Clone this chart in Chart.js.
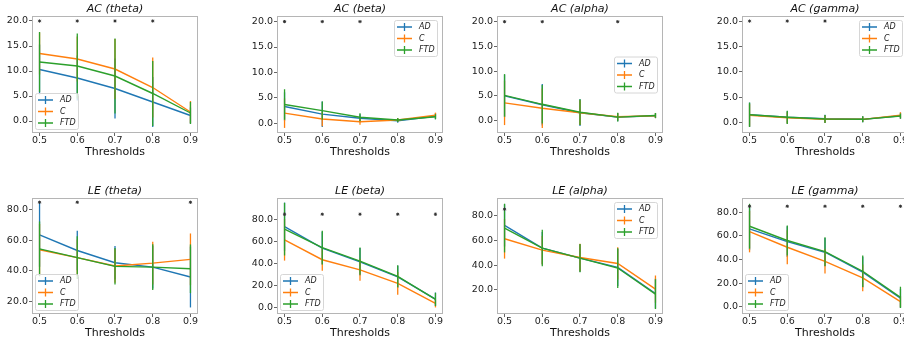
<!DOCTYPE html>
<html><head><meta charset="utf-8">
<script src="https://cdn.jsdelivr.net/npm/chart.js@4"></script>
<style>
html,body{margin:0;padding:0;background:#fff;}
body{width:904px;height:344px;overflow:hidden;position:relative;}
.cell{position:absolute;}
</style></head><body>
<script>
// ---------------- DATA ----------------
const thresholds = [0.5, 0.6, 0.7, 0.8, 0.9];
const groups = ['AD', 'C', 'FTD'];
const acTicks = [0, 5, 10, 15, 20];
const leTicks = [0, 20, 40, 60, 80];
const acSigLevel = 20;
const leSigLevel = 85;

// AC (theta)
const acThetaAD = [10.3, 8.6, 6.5, 3.8, 1.1];
const acThetaADsd = [5.0, 4.5, 6.0, 5.0, 1.6];
const acThetaC = [13.5, 12.4, 10.4, 6.7, 1.8];
const acThetaCsd = [4.2, 4.5, 6.0, 6.0, 2.2];
const acThetaFTD = [11.8, 11.0, 9.0, 5.5, 1.6];
const acThetaFTDsd = [6.0, 6.5, 7.5, 6.5, 2.2];
const acThetaSig = [1, 1, 1, 1, 0];

// AC (beta)
const acBetaAD = [3.3, 1.8, 1.0, 0.5, 1.4];
const acBetaADsd = [2.8, 2.5, 0.8, 0.4, 0.6];
const acBetaC = [2.0, 0.85, 0.3, 0.65, 1.6];
const acBetaCsd = [2.9, 1.4, 0.6, 0.4, 0.5];
const acBetaFTD = [3.7, 2.5, 1.2, 0.65, 1.3];
const acBetaFTDsd = [3.0, 1.8, 0.8, 0.4, 0.5];
const acBetaSig = [1, 1, 1, 0, 0];

// AC (alpha)
const acAlphaAD = [5.0, 3.2, 1.6, 0.7, 1.0];
const acAlphaADsd = [4.3, 4.2, 2.7, 0.8, 0.5];
const acAlphaC = [3.6, 2.5, 1.6, 0.8, 1.0];
const acAlphaCsd = [4.5, 4.0, 2.5, 0.7, 0.5];
const acAlphaFTD = [5.1, 3.3, 1.7, 0.7, 1.05];
const acAlphaFTDsd = [4.3, 3.9, 2.6, 0.9, 0.5];
const acAlphaSig = [1, 1, 0, 1, 0];

// AC (gamma)
const acGammaAD = [1.5, 1.0, 0.7, 0.6, 1.3];
const acGammaADsd = [2.4, 1.2, 0.8, 0.6, 0.6];
const acGammaC = [1.4, 0.9, 0.6, 0.6, 1.4];
const acGammaCsd = [2.2, 1.1, 0.7, 0.5, 0.6];
const acGammaFTD = [1.5, 1.0, 0.65, 0.6, 1.25];
const acGammaFTDsd = [2.4, 1.3, 0.8, 0.6, 0.5];
const acGammaSig = [1, 1, 1, 0, 0];

// LE (theta)
const leThetaAD = [63.6, 53.3, 45.3, 42.4, 35.9];
const leThetaADsd = [21, 13, 11, 14, 20];
const leThetaC = [53.8, 48.6, 43.1, 45.0, 47.5];
const leThetaCsd = [17, 12, 11, 14, 17];
const leThetaFTD = [54.4, 48.6, 42.9, 42.4, 41.3];
const leThetaFTDsd = [18, 14, 12, 15, 16];
const leThetaSig = [1, 1, 0, 0, 1];

// LE (beta)
const leBetaAD = [73.6, 54.1, 41.6, 27.9, 7.6];
const leBetaADsd = [22, 15, 12.5, 10, 6];
const leBetaC = [61.7, 43.5, 34.3, 21.9, 3.6];
const leBetaCsd = [19, 10, 10, 10.3, 3.6];
const leBetaFTD = [71.4, 54.6, 42.2, 28.4, 7.3];
const leBetaFTDsd = [24, 15.4, 12.5, 10, 6];
const leBetaSig = [1, 1, 1, 1, 1];

// LE (alpha)
const leAlphaAD = [71.9, 53.7, 45.6, 38.1, 17.1];
const leAlphaADsd = [17, 13, 11, 15, 12];
const leAlphaC = [61.2, 52.0, 46.1, 41.3, 20.6];
const leAlphaCsd = [16, 11.5, 11, 13, 11];
const leAlphaFTD = [69.8, 53.7, 45.6, 37.6, 16.6];
const leAlphaFTDsd = [19.6, 14.7, 11.4, 16, 12];
const leAlphaSig = [1, 0, 0, 0, 0];

// LE (gamma)
const leGammaAD = [65.8, 55.1, 46.1, 29.2, 7.1];
const leGammaADsd = [18, 13, 12, 13, 8];
const leGammaC = [63.6, 50.3, 38.4, 24.3, 4.2];
const leGammaCsd = [17.6, 14.3, 10.4, 11.3, 4.7];
const leGammaFTD = [68.1, 56.0, 46.6, 30.0, 7.9];
const leGammaFTDsd = [19, 12.7, 12.2, 13.3, 9];
const leGammaSig = [1, 1, 1, 1, 1];

const panels = [
  {title: 'AC (theta)', means: [acThetaAD, acThetaC, acThetaFTD], sds: [acThetaADsd, acThetaCsd, acThetaFTDsd], sig: acThetaSig, level: acSigLevel, ticks: acTicks},
  {title: 'AC (beta)', means: [acBetaAD, acBetaC, acBetaFTD], sds: [acBetaADsd, acBetaCsd, acBetaFTDsd], sig: acBetaSig, level: acSigLevel, ticks: acTicks},
  {title: 'AC (alpha)', means: [acAlphaAD, acAlphaC, acAlphaFTD], sds: [acAlphaADsd, acAlphaCsd, acAlphaFTDsd], sig: acAlphaSig, level: acSigLevel, ticks: acTicks},
  {title: 'AC (gamma)', means: [acGammaAD, acGammaC, acGammaFTD], sds: [acGammaADsd, acGammaCsd, acGammaFTDsd], sig: acGammaSig, level: acSigLevel, ticks: acTicks},
  {title: 'LE (theta)', means: [leThetaAD, leThetaC, leThetaFTD], sds: [leThetaADsd, leThetaCsd, leThetaFTDsd], sig: leThetaSig, level: leSigLevel, ticks: leTicks},
  {title: 'LE (beta)', means: [leBetaAD, leBetaC, leBetaFTD], sds: [leBetaADsd, leBetaCsd, leBetaFTDsd], sig: leBetaSig, level: leSigLevel, ticks: leTicks},
  {title: 'LE (alpha)', means: [leAlphaAD, leAlphaC, leAlphaFTD], sds: [leAlphaADsd, leAlphaCsd, leAlphaFTDsd], sig: leAlphaSig, level: leSigLevel, ticks: leTicks},
  {title: 'LE (gamma)', means: [leGammaAD, leGammaC, leGammaFTD], sds: [leGammaADsd, leGammaCsd, leGammaFTDsd], sig: leGammaSig, level: leSigLevel, ticks: leTicks}
];

// ---------------- LAYOUT / STYLE ----------------
// plot area boxes [left, top, right, bottom], y axis range, legend location
const layout = [
  {box: [32, 16, 198, 133], yMin: -2.4, yMax: 21.0, legend: 'lower left'},
  {box: [277, 16, 443, 133], yMin: -1.9, yMax: 21.1, legend: 'upper right'},
  {box: [497, 16, 663, 133], yMin: -2.5, yMax: 21.15, legend: 'center right'},
  {box: [742, 16, 908, 133], yMin: -2.1, yMax: 21.0, legend: 'upper right'},
  {box: [32, 197.5, 198, 313.5], yMin: 11.6, yMax: 87.8, legend: 'lower left'},
  {box: [277, 197.5, 443, 313.5], yMin: -6.0, yMax: 99.8, legend: 'lower left'},
  {box: [497, 197.5, 663, 313.5], yMin: 0.6, yMax: 94.0, legend: 'upper right'},
  {box: [742, 197.5, 908, 313.5], yMin: -6.2, yMax: 92.0, legend: 'lower left'}
];
const colors = ['#1f77b4', '#ff7f0e', '#2ca02c'];
const FONT = "'DejaVu Sans', sans-serif";
Chart.defaults.font.family = FONT;
Chart.defaults.animation = false;

const YW = 40, PT = 20, PR = 8, XH = 26;

const panelPlugin = {
  id: 'panelPlugin',
  beforeDatasetDraw(chart, args) {
    const ds = chart.data.datasets[args.index];
    if (!ds.sd) return;
    const {ctx, chartArea: a, scales: {x, y}} = chart;
    ctx.save();
    ctx.beginPath();
    ctx.rect(a.left, a.top, a.right - a.left, a.bottom - a.top);
    ctx.clip();
    ctx.strokeStyle = ds.borderColor;
    ctx.lineWidth = 1.3;
    ds.data.forEach((pt, k) => {
      const px = x.getPixelForValue(pt.x);
      ctx.beginPath();
      ctx.moveTo(px, y.getPixelForValue(pt.y - ds.sd[k]));
      ctx.lineTo(px, y.getPixelForValue(pt.y + ds.sd[k]));
      ctx.stroke();
    });
    ctx.restore();
  },
  afterDraw(chart, args, opts) {
    const {ctx, chartArea: a} = chart;
    ctx.save();
    // frame
    ctx.strokeStyle = '#b5b5b5';
    ctx.lineWidth = 1;
    ctx.strokeRect(Math.round(a.left) + 0.5, Math.round(a.top) + 0.5, Math.round(a.right - a.left) - 1, Math.round(a.bottom - a.top) - 1);
    // title
    ctx.fillStyle = '#111';
    ctx.font = 'italic 11px ' + FONT;
    ctx.textAlign = 'center';
    ctx.textBaseline = 'middle';
    ctx.fillText(opts.title, (a.left + a.right) / 2, a.top - 6.5);
    // legend
    const lw = 43, lh = 36;
    let bx, by;
    if (opts.legend === 'lower left') { bx = a.left + 3; by = a.bottom - 4 - lh; }
    else if (opts.legend === 'upper right') { bx = a.right - 6 - lw; by = a.top + 4; }
    else { bx = a.right - 6 - lw; by = (a.top + a.bottom) / 2 - lh / 2; }
    ctx.beginPath();
    if (ctx.roundRect) ctx.roundRect(bx + 0.5, by + 0.5, lw, lh, 2); else ctx.rect(bx + 0.5, by + 0.5, lw, lh);
    ctx.fillStyle = 'rgba(255,255,255,0.8)';
    ctx.fill();
    ctx.strokeStyle = '#d6d6d6';
    ctx.stroke();
    ctx.font = 'italic 8px ' + FONT;
    ctx.textAlign = 'left';
    ctx.textBaseline = 'middle';
    groups.forEach((g, i) => {
      const cy = by + 7 + i * 11.5;
      ctx.strokeStyle = colors[i];
      ctx.lineWidth = 1.3;
      ctx.beginPath();
      ctx.moveTo(bx + 3, cy); ctx.lineTo(bx + 18, cy);
      ctx.moveTo(bx + 10.5, cy - 4); ctx.lineTo(bx + 10.5, cy + 4);
      ctx.stroke();
      ctx.fillStyle = '#222';
      ctx.fillText(g, bx + 25, cy);
    });
    ctx.restore();
  }
};

function makePanel(p, lay) {
  const [L, T, R, B] = lay.box;
  const w = Math.round(R - L + YW + PR), h = Math.round(B - T + PT + XH);
  const div = document.createElement('div');
  div.className = 'cell';
  div.style.left = (L - YW) + 'px';
  div.style.top = (T - PT) + 'px';
  div.style.width = w + 'px';
  div.style.height = h + 'px';
  const cv = document.createElement('canvas');
  cv.width = w; cv.height = h;
  cv.style.width = w + 'px'; cv.style.height = h + 'px';
  div.appendChild(cv);
  document.body.appendChild(div);

  const datasets = groups.map((g, i) => ({
    label: g,
    data: thresholds.map((x, k) => ({x: x, y: p.means[i][k]})),
    sd: p.sds[i],
    borderColor: colors[i],
    backgroundColor: colors[i],
    borderWidth: 1.4,
    pointRadius: 0,
    tension: 0,
    fill: false,
    order: 3 - i
  }));
  datasets.push({
    label: 'sig',
    data: thresholds.map((x, k) => p.sig[k] ? {x: x, y: p.level} : null).filter(Boolean),
    showLine: false,
    pointStyle: 'star',
    pointRadius: 1.6,
    borderColor: '#333',
    backgroundColor: '#333',
    borderWidth: 1,
    order: 0
  });

  const tickCommon = {color: '#222', font: {size: 9.5, lineHeight: 1}};
  const gridCommon = {display: true, drawOnChartArea: false, drawTicks: true, tickLength: 3, color: '#666'};

  new Chart(cv, {
    type: 'line',
    data: {datasets},
    options: {
      responsive: false,
      animation: false,
      devicePixelRatio: 1,
      layout: {padding: {top: PT, right: PR, left: 0, bottom: 0}},
      plugins: {
        legend: {display: false},
        tooltip: {enabled: false},
        title: {display: false},
        panelPlugin: {title: p.title, legend: lay.legend}
      },
      scales: {
        x: {
          type: 'linear',
          min: 0.48, max: 0.92,
          afterBuildTicks: s => { s.ticks = thresholds.map(v => ({value: v})); },
          afterFit: s => { s.height = XH; },
          ticks: Object.assign({}, tickCommon, {padding: 0, maxRotation: 0, autoSkip: false, callback: v => Number(v).toFixed(1)}),
          grid: gridCommon,
          border: {display: false},
          title: {display: true, text: 'Thresholds', color: '#111', font: {size: 11}, padding: 0}
        },
        y: {
          type: 'linear',
          min: lay.yMin, max: lay.yMax,
          afterBuildTicks: s => { s.ticks = p.ticks.filter(v => v >= s.min && v <= s.max).map(v => ({value: v})); },
          afterFit: s => { s.width = YW; },
          ticks: Object.assign({}, tickCommon, {padding: 1, callback: v => Number(v).toFixed(1)}),
          grid: gridCommon,
          border: {display: false}
        }
      }
    },
    plugins: [panelPlugin]
  });
}

panels.forEach((p, i) => makePanel(p, layout[i]));
</script>
</body></html>
